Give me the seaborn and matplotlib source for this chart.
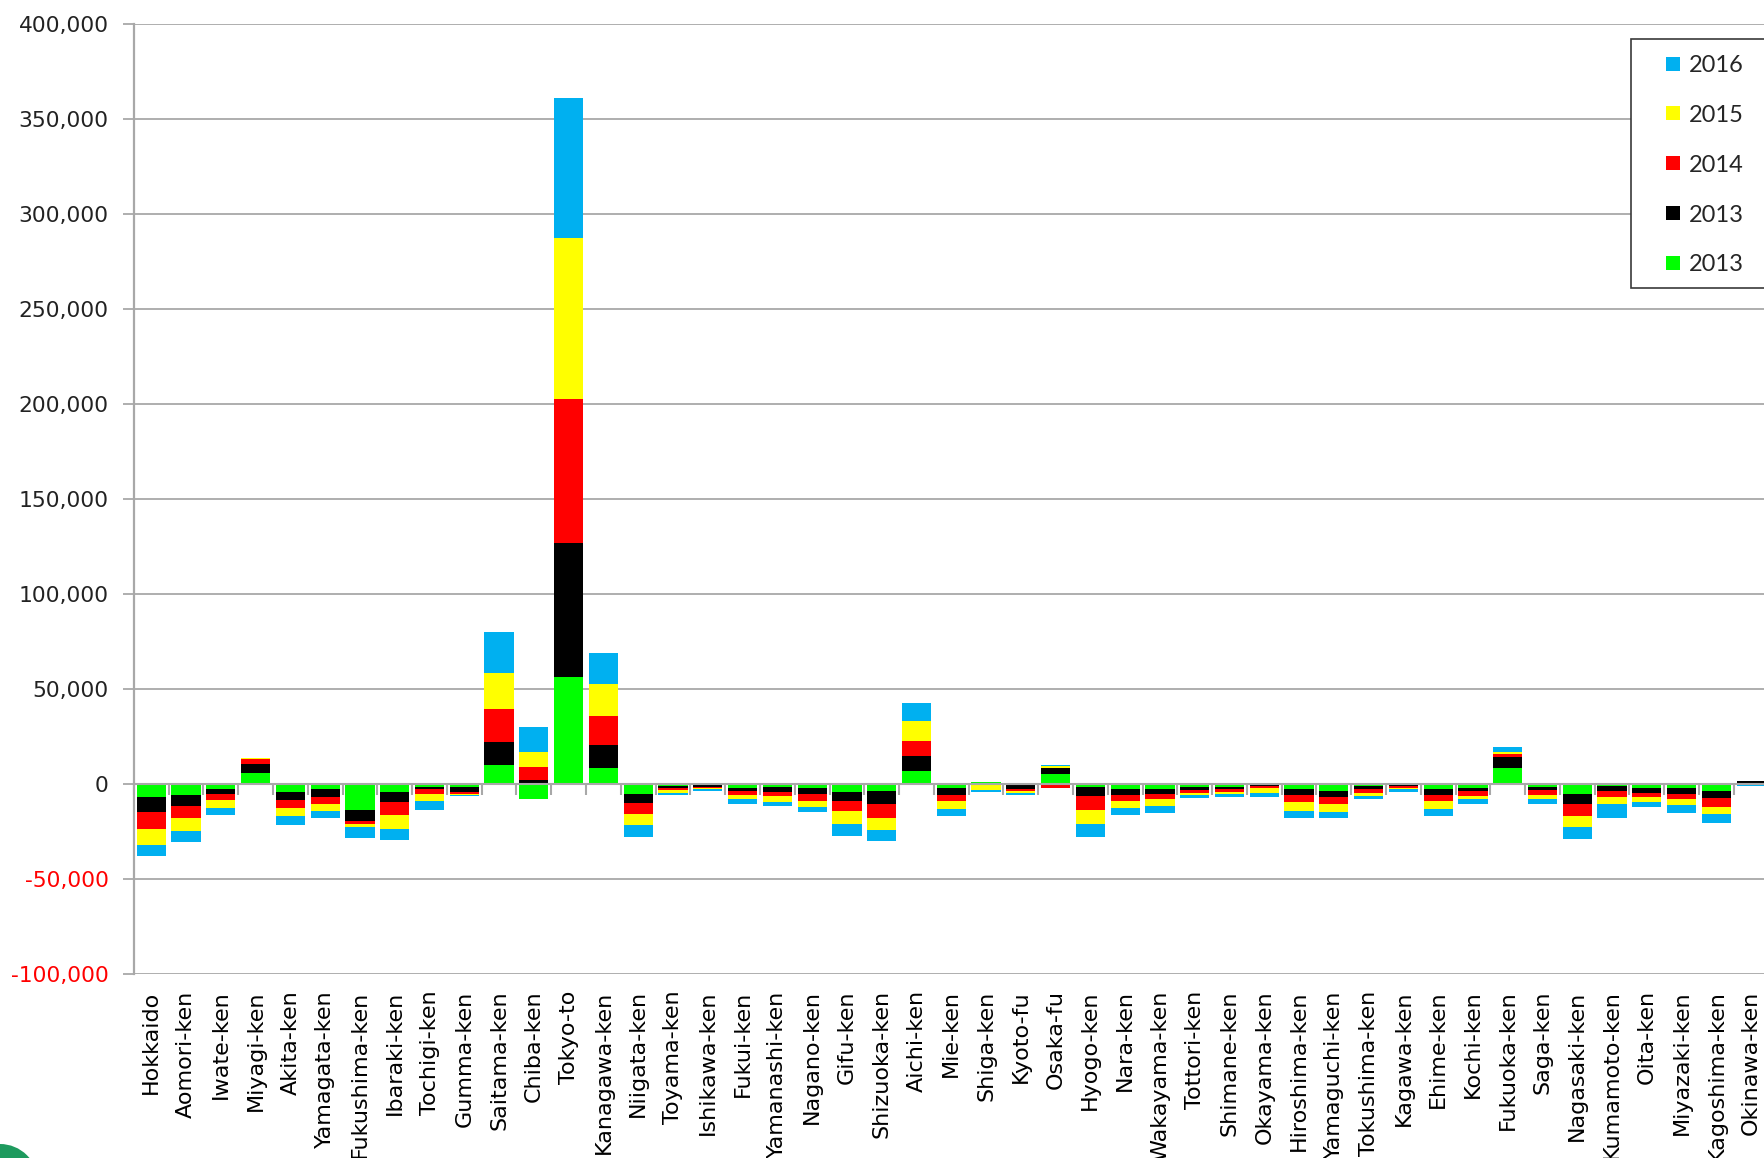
import numpy as np
import pandas as pd
import matplotlib
matplotlib.use("Agg")
import matplotlib.pyplot as plt
from matplotlib.lines import Line2D
from matplotlib.patches import Rectangle, Ellipse
import seaborn as sns

prefectures = [
    "Hokkaido", "Aomori-ken", "Iwate-ken", "Miyagi-ken", "Akita-ken", "Yamagata-ken",
    "Fukushima-ken", "Ibaraki-ken", "Tochigi-ken", "Gumma-ken", "Saitama-ken", "Chiba-ken",
    "Tokyo-to", "Kanagawa-ken", "Niigata-ken", "Toyama-ken", "Ishikawa-ken", "Fukui-ken",
    "Yamanashi-ken", "Nagano-ken", "Gifu-ken", "Shizuoka-ken", "Aichi-ken", "Mie-ken",
    "Shiga-ken", "Kyoto-fu", "Osaka-fu", "Hyogo-ken", "Nara-ken", "Wakayama-ken",
    "Tottori-ken", "Shimane-ken", "Okayama-ken", "Hiroshima-ken", "Yamaguchi-ken",
    "Tokushima-ken", "Kagawa-ken", "Ehime-ken", "Kochi-ken", "Fukuoka-ken", "Saga-ken",
    "Nagasaki-ken", "Kumamoto-ken", "Oita-ken", "Miyazaki-ken", "Kagoshima-ken", "Okinawa-ken",
]

# Net population change per prefecture and year (persons)
green_2013 = [
    -7100, -5900, -3000, 5600, -4200, -3000, -14100, -4200, -1700, -1700, 10100, -8100,
    56100, 8300, -5200, -1000, -700, -2100, -1700, -2300, -4200, -4000, 6900, -2300,
    700, -900, 5100, -1600, -2800, -2800, -1600, -1600, -500, -2800, -3800,
    -1000, -300, -2800, -2300, 8200, -1600, -5200, -1000, -2300, -2300, -4000, 500,
]
black_2013 = [
    -8000, -5600, -2400, 4800, -4300, -4100, -5300, -5500, -1300, -2500, 11800, 2000,
    70500, 12100, -5000, -1300, -900, -1900, -2500, -3100, -4800, -6900, 7900, -3600,
    -200, -1900, 3200, -4800, -3100, -2400, -1900, -1400, -700, -3100, -3300,
    -1800, -700, -3100, -1700, 5900, -1900, -5600, -3000, -2400, -2900, -3600, 700,
]
red_2014 = [
    -8700, -6700, -3100, 2400, -4200, -3800, -1800, -6800, -2400, -1200, 17600, 6800,
    75800, 15100, -5600, -1200, -700, -1900, -2400, -3600, -5400, -7200, 7900, -3100,
    -700, -1000, -2400, -7500, -3100, -2600, -1200, -1200, -1200, -3800, -3800,
    -1900, -1300, -3100, -2400, 1400, -2400, -6200, -3100, -2400, -3100, -4400, 0,
]
yellow_2015 = [
    -8300, -6600, -4200, 700, -4100, -3500, -1700, -7100, -3600, -300, 18700, 7800,
    84600, 16900, -6100, -1200, -700, -2400, -2900, -3000, -6800, -6200, 10500, -4200,
    -2300, -900, 1000, -7300, -3700, -3700, -1200, -1000, -2300, -4700, -4000,
    -1700, -700, -4200, -1900, 1200, -2400, -5900, -3700, -2400, -3000, -4100, 0,
]
blue_2016 = [
    -6100, -6100, -3600, -500, -4900, -3700, -5600, -5900, -4900, -900, 21600, 13400,
    74000, 16300, -5900, -1000, -600, -2500, -2000, -3100, -6100, -5900, 9200, -3600,
    -1200, -1200, 600, -6600, -3600, -4100, -1700, -1900, -2400, -3700, -3200,
    -1900, -1200, -3600, -2500, 2400, -2500, -6100, -7300, -2500, -4300, -4400, -1200,
]

series_values = [green_2013, black_2013, red_2014, yellow_2015, blue_2016]
series_labels = ["2013", "2013", "2014", "2015", "2016"]
series_colors = ["#00FF00", "#000000", "#FF0000", "#FFFF00", "#00B0F0"]

y_ticks = list(range(-100000, 400001, 50000))

W, H = 1765, 1158
sns.set_style("white")
plt.rcParams["font.family"] = ["DejaVu Sans"]

fig = plt.figure(figsize=(W / 100, H / 100), dpi=100)
ax_left, ax_right = 133.9, 1768.6
ax_top, ax_bottom = 23.7, 973.7
ax = fig.add_axes([ax_left / W, 1 - ax_bottom / H, (ax_right - ax_left) / W, (ax_bottom - ax_top) / H])

grid_color = "#A8A8A8"

# Stacked bars: positive parts pile upward from zero, negative parts downward
n = len(prefectures)
pos_base = np.zeros(n)
neg_base = np.zeros(n)
for vals, color in zip(series_values, series_colors):
    v = np.asarray(vals, dtype=float)
    bottom = np.where(v >= 0, pos_base, neg_base)
    df = pd.DataFrame({"pref": prefectures, "value": v})
    sns.barplot(data=df, x="pref", y="value", order=prefectures, color=color,
                saturation=1, width=0.84, errorbar=None, linewidth=0,
                bottom=bottom, ax=ax, zorder=2)
    pos_base += np.clip(v, 0, None)
    neg_base += np.clip(v, None, 0)

ax.set_xlim(-0.5, n - 0.5)
ax.set_ylim(-100000, 400000)
ax.set_xlabel("")
ax.set_ylabel("")

# Horizontal gridlines
ax.set_yticks(y_ticks)
ax.yaxis.grid(True, color=grid_color, linewidth=1.3)
ax.xaxis.grid(False)
ax.set_axisbelow(True)

ax.set_yticklabels([f"{t:,}" for t in y_ticks], fontsize=15.7)
for lbl, t in zip(ax.get_yticklabels(), y_ticks):
    lbl.set_color("#FF0000" if t < 0 else "#222222")
ax.tick_params(axis="y", length=8, width=1.3, color=grid_color, pad=10, left=True)

ax.set_xticks(range(n))
ax.set_xticklabels(prefectures, rotation=90, fontsize=16, color="#000000")
ax.tick_params(axis="x", length=0, pad=12)

for side in ["top", "right", "bottom"]:
    ax.spines[side].set_visible(False)
ax.spines["left"].set_color(grid_color)
ax.spines["left"].set_linewidth(1.6)

# Category axis line at zero with boundary tick marks
sec = ax.secondary_xaxis(0.2)
sec.set_xticks(np.arange(-0.5, n, 1.0))
sec.set_xticklabels([])
sec.tick_params(axis="x", direction="out", length=8, width=1.5, color=grid_color)
sec.spines["bottom"].set_color(grid_color)
sec.spines["bottom"].set_linewidth(1.5)
sec.set_zorder(3)

# Legend box
frame = Rectangle((1631 / W, 1 - 288 / H), (1800 - 1631) / W, 249 / H,
                  transform=fig.transFigure, facecolor="white", edgecolor="#3A3A3A",
                  linewidth=1.2, zorder=4)
fig.add_artist(frame)
handles = [Line2D([], [], marker="s", linestyle="", markersize=10, color=c,
                  markeredgewidth=0)
           for c in reversed(series_colors)]
fig.legend(handles, list(reversed(series_labels)), loc="upper left",
           bbox_to_anchor=(1661.5 / W, 1 - 54.8 / H), frameon=False,
           borderpad=0, borderaxespad=0, handlelength=1.0, handletextpad=0.15,
           labelspacing=1.225, prop={"family": "Lato", "size": 17})

# Corner emblem
fig.add_artist(Ellipse((0 / W, 1 - 1182 / H), 76 / W, 76 / H, transform=fig.transFigure,
                       facecolor="#1E9A5E", edgecolor="none", zorder=1))

fig.savefig("out.png", dpi=100)
